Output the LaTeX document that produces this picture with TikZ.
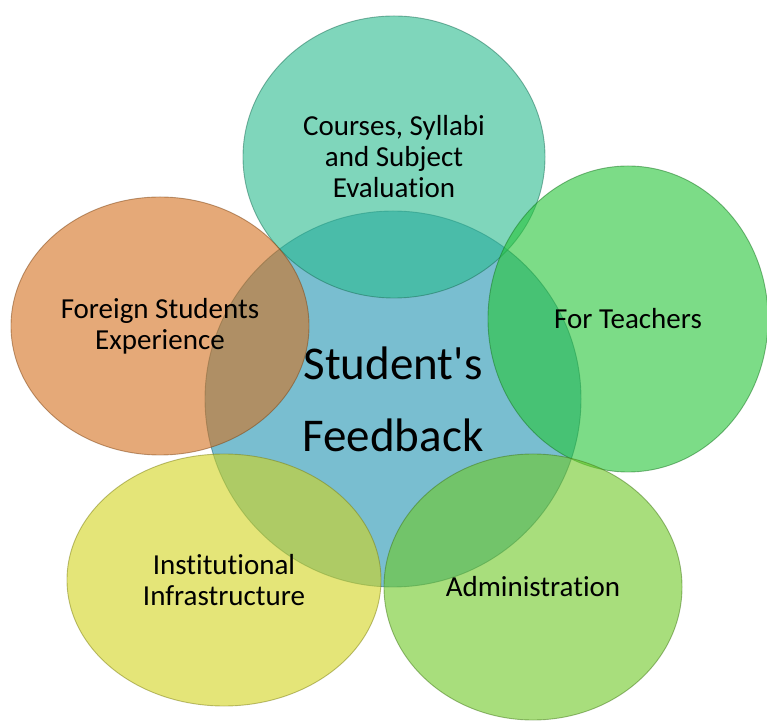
\documentclass[tikz,border=0pt]{standalone}
\usepackage{fontspec}
\setmainfont{Carlito}[Ligatures=NoCommon]
\usepackage{tikz}
\usetikzlibrary{shapes.geometric}
\definecolor{feedblue}{RGB}{33,147,177}
\definecolor{courseteal}{RGB}{43,187,143}
\definecolor{teachgreen}{RGB}{38,197,55}
\definecolor{admingreen}{RGB}{110,200,38}
\definecolor{infrayellow}{RGB}{210,213,30}
\definecolor{foreignorange}{RGB}{212,113,30}

\begin{document}
\begin{tikzpicture}[x=1pt,y=1pt,
  bubble/.style={ellipse,fill opacity=0.6,draw opacity=0.5,text opacity=1,line width=0.9pt,align=center,inner sep=0pt},
  small/.style={font=\fontsize{29}{31}\selectfont}]
\useasboundingbox[fill=white] (0,0) rectangle (767,722);
\node[bubble,fill=feedblue,draw=feedblue!60!black,minimum width=376pt,minimum height=376pt,font=\fontsize{47}{72}\selectfont] (feedback) at (393,323) {Student\textquotesingle s\\Feedback};
\node[bubble,small,fill=courseteal,draw=courseteal!60!black,minimum width=302pt,minimum height=282pt] (courses) at (394,565) {Courses, Syllabi\\and Subject\\Evaluation};
\node[bubble,small,fill=teachgreen,draw=teachgreen!60!black,minimum width=280pt,minimum height=306pt] (teachers) at (628,403) {For Teachers};
\node[bubble,small,fill=admingreen,draw=admingreen!60!black,minimum width=298pt,minimum height=266pt] (admin) at (533,135) {Administration};
\node[bubble,small,fill=infrayellow,draw=infrayellow!60!black,minimum width=314pt,minimum height=252pt] (infra) at (224,142) {Institutional\\Infrastructure};
\node[bubble,small,fill=foreignorange,draw=foreignorange!60!black,minimum width=298pt,minimum height=258pt] (foreign) at (160,396) {Foreign Students\\Experience};
\end{tikzpicture}
\end{document}
